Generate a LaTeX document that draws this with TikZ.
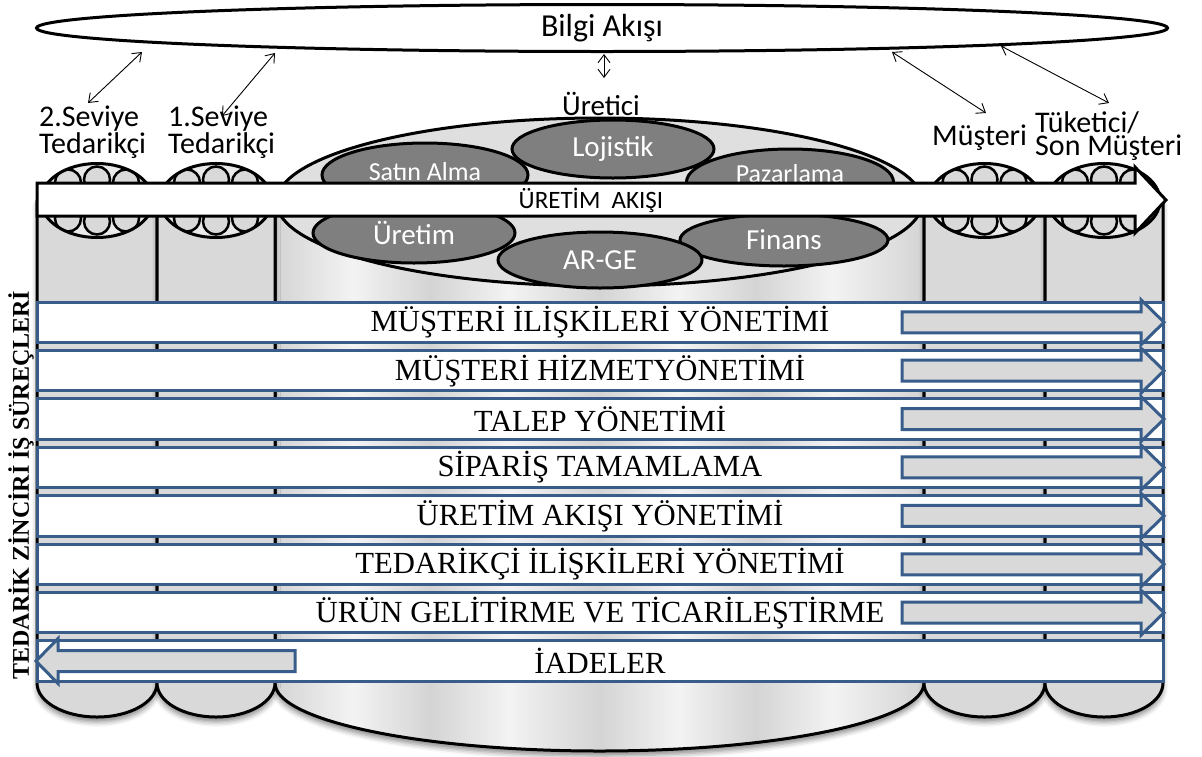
\documentclass[tikz,border=0pt]{standalone}
\usepackage{fontspec}
\setmainfont{Liberation Serif}
\newfontfamily\calibri{Carlito}
\usetikzlibrary{shapes.geometric,arrows.meta,shadows.blur}

\definecolor{barblue}{RGB}{56,93,138}
\definecolor{colgray}{RGB}{217,217,217}
\definecolor{capgray}{RGB}{234,234,234}
\definecolor{ovalgray}{RGB}{127,127,127}
\definecolor{metalA}{RGB}{212,212,212}
\definecolor{metalB}{RGB}{243,243,243}

% brushed-metal stripes for the manufacturer drum (bbox maps to 25bp..75bp)
\pgfdeclarehorizontalshading{metal}{100bp}{color(0bp)=(metalA); color(25bp)=(metalA);
  color(31bp)=(metalB); color(37bp)=(metalA); color(43bp)=(metalB); color(50bp)=(metalA);
  color(56bp)=(metalB); color(62bp)=(metalA); color(68bp)=(metalB); color(75bp)=(metalA);
  color(100bp)=(metalA)}

\begin{document}
\begin{tikzpicture}[x=1pt,y=-1pt,
  drumshadow/.style={blur shadow={shadow xshift=0pt, shadow yshift=-5pt,
      shadow blur radius=5pt, shadow opacity=45}},
  colbody/.style={fill=colgray, draw=black, line width=3pt, line join=round, drumshadow},
  centerbody/.style={shading=metal, draw=black, line width=3pt, line join=round, drumshadow},
  capfill/.style={fill=capgray, draw=black, line width=3pt},
  tube/.style={fill=colgray, draw=black, line width=2.5pt},
  oval/.style={ellipse, fill=ovalgray, draw=black, line width=3pt, inner sep=0pt,
      text=white, font=\calibri\fontsize{29}{29}\selectfont},
  flowarrow/.style={fill=white, draw=black, line width=3pt, line join=miter},
  procbar/.style={draw=barblue, fill=white, line width=3pt, inner sep=0pt, outer sep=0pt,
      minimum width=1126pt, minimum height=40.5pt, font=\fontsize{30.7}{30.7}\selectfont},
  procarrow/.style={draw=barblue, fill=colgray, line width=3pt, line join=miter},
  infoarrow/.style={{Straight Barb[length=8pt,width=12pt]}-{Straight Barb[length=8pt,width=12pt]},
      line width=0.9pt},
  lbl/.style={inner sep=0pt}
]
\useasboundingbox (0,0) rectangle (1202,756);

% ---- manufacturer drum body
\path[centerbody] (275,202) -- (275,683)
  arc[start angle=180, end angle=0, x radius=324.5, y radius=68] -- (924,202) -- cycle;

% ---- supplier and customer drums
\foreach \xl/\xr in {37/157, 157/275, 924/1045, 1045/1163}{
  \path[colbody] (\xl,200) -- (\xl,683)
    arc[start angle=180, end angle=0, x radius={(\xr-\xl)/2}, y radius=34] -- (\xr,200) -- cycle;
}

% ---- drum lids with tubes
\foreach \cx in {97,216,984.5,1104}{
  \begin{scope}
    \clip (\cx,200.5) ellipse[x radius=56, y radius=37];
    \fill[capgray] (\cx,200.5) ellipse[x radius=56, y radius=37];
    \foreach \dx/\dy in {-29/-18, 0/-21, 29/-18, -29/18, 0/21, 29/18, -46/0, 46/0}
      \draw[tube] (\cx+\dx,200.5+\dy) circle[radius=13];
  \end{scope}
  \draw[line width=3pt] (\cx,200.5) ellipse[x radius=56, y radius=37];
}

% ---- manufacturer lid with departments
\draw[capfill, fill=capgray!90!gray] (599.5,202) ellipse[x radius=323, y radius=84];
\node[oval, minimum width=202pt, minimum height=58pt] (lojistik) at (613,149) {Lojistik};
\node[oval, minimum width=206pt, minimum height=64pt, text height=14pt, text depth=4pt,
      font=\calibri\fontsize{26}{26}\selectfont] (satin) at (425,175) {Satın Alma};
\node[oval, minimum width=207pt, minimum height=66pt, text height=10pt, text depth=10pt,
      font=\calibri\fontsize{26}{26}\selectfont] (pazar) at (790,182) {Pazarlama};
\node[oval, minimum width=202pt, minimum height=60pt] (uretim) at (414,233) {Üretim};
\node[oval, minimum width=208pt, minimum height=52pt] (finans) at (784,240) {Finans};
\node[oval, minimum width=204pt, minimum height=56pt] (arge) at (600,260) {AR-GE};

% ---- production flow arrow
\draw[flowarrow] (37,183) -- (1135,183) -- (1135,167) -- (1166,200) -- (1135,233)
  -- (1135,216) -- (37,216) -- cycle;
\node[lbl, font=\calibri\fontsize{25}{25}\selectfont] (akis) at (591,200) {ÜRETİM\ \ AKIŞI};

% ---- business processes
\foreach \i/\t in {1/MÜŞTERİ İLİŞKİLERİ YÖNETİMİ, 2/MÜŞTERİ HİZMETYÖNETİMİ,
    3/TALEP YÖNETİMİ, 4/SİPARİŞ TAMAMLAMA, 5/ÜRETİM AKIŞI YÖNETİMİ,
    6/TEDARİKÇİ İLİŞKİLERİ YÖNETİMİ, 7/ÜRÜN GELİTİRME VE TİCARİLEŞTİRME, 8/İADELER}
  \node[procbar] (p\i) at (600,{322.25+48.4*(\i-1)}) {\t};

\foreach \i in {1,...,7}
  \draw[procarrow, shift={(p\i.east)}] (-261,-10.5) -- (-22,-10.5) -- (-22,-22.5) -- (1,0)
    -- (-22,22.5) -- (-22,10.5) -- (-261,10.5) -- cycle;
\draw[procarrow, shift={(p8.west)}] (-1,0) -- (21,-22.5) -- (21,-10.5) -- (258,-10.5)
  -- (258,10.5) -- (21,10.5) -- (21,22.5) -- cycle;

\node[lbl, rotate=90, font=\bfseries\fontsize{24}{24}\selectfont] (sc) at (21,485)
  {TEDARİK ZİNCİRİ İŞ SÜREÇLERİ};

% ---- information flow
\node[ellipse, draw, line width=3pt, minimum width=1131pt, minimum height=47pt, inner sep=0pt,
      font=\calibri\fontsize{32}{32}\selectfont] (info) at (602,28) {Bilgi Akışı};

\node[lbl, anchor=base west, align=left, font=\calibri\fontsize{30}{21}\selectfont]
  (tier2) at (39,153) {2.Seviye\\Tedarikçi};
\node[lbl, anchor=base west, align=left, font=\calibri\fontsize{30}{21}\selectfont]
  (tier1) at (168,153) {1.Seviye\\Tedarikçi};
\node[lbl, anchor=base, font=\calibri\fontsize{29}{29}\selectfont] (maker) at (601,115) {Üretici};
\node[lbl, anchor=base west, font=\calibri\fontsize{30}{30}\selectfont] (cust) at (932,145) {Müşteri};
\node[lbl, anchor=base west, align=left, font=\calibri\fontsize{30}{19}\selectfont]
  (endc) at (1035,155) {Tüketici/\\Son Müşteri};

\coordinate (a1t) at (142,52);  \coordinate (a1b) at (88,103);
\coordinate (a2t) at (275,53);  \coordinate (a2b) at (222,116);
\coordinate (a3t) at (604,54);  \coordinate (a3b) at (604,78);
\coordinate (a4t) at (892,52);  \coordinate (a4b) at (986,113);
\coordinate (a5t) at (1001,46); \coordinate (a5b) at (1109,103);
\foreach \k in {1,...,5} \draw[infoarrow] (a\k t) -- (a\k b);
\end{tikzpicture}
\end{document}
